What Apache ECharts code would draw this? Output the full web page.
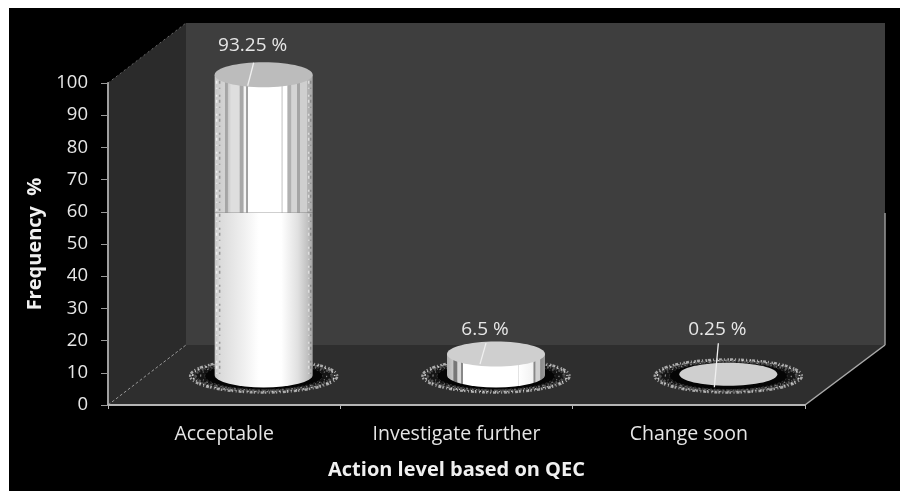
<!DOCTYPE html>
<html><head><meta charset="utf-8">
<style>html,body{margin:0;padding:0;background:#fff}#c{width:904px;height:491px}</style>
<script src="https://cdn.jsdelivr.net/npm/echarts@6/dist/echarts.min.js"></script>
</head><body><div id="c"></div>
<script>
const categories = ['Acceptable', 'Investigate further', 'Change soon'];
const frequency = [93.25, 6.5, 0.25];
const valueLabels = ['93.25 %', '6.5 %', '0.25 %'];
const yTicks = [0, 10, 20, 30, 40, 50, 60, 70, 80, 90, 100];
const xTitle = 'Action level based on QEC';
const yTitle = 'Frequency  %';

const DEPTH_X = 78, DEPTH_Y = -60, RX = 49, RY = 12.5, SPLIT = 50.5;
const LABEL_LIFT = [29, 24, 45], LEADER_LIFT = [12, 11, 31], LEADER_DROP = [11, 10, 13];
const FONT = '"Open Sans", sans-serif';
const chart = echarts.init(document.getElementById('c'));

function ell(cx, cy, rx, ry, style) {
  return { type: 'ellipse', shape: { cx, cy, rx, ry }, style };
}
function stops(arr) {
  return { type: 'linear', x: 0, y: 0, x2: 1, y2: 0, colorStops: arr.map(a => ({ offset: a[0], color: a[1] })) };
}
const smooth = stops([[0,'#c4c4c4'],[0.05,'#dadada'],[0.3,'#f0f0f0'],[0.45,'#ffffff'],[0.68,'#ffffff'],[0.85,'#e0e0e0'],[0.95,'#c0c0c0'],[1,'#a5a5a5']]);
const striped = stops([[0,'#c8c8c8'],[0.1,'#d4d4d4'],[0.11,'#a5a5a5'],[0.13,'#a5a5a5'],[0.14,'#cccccc'],[0.17,'#dedede'],[0.25,'#dedede'],[0.26,'#a8a8a8'],[0.29,'#a8a8a8'],[0.3,'#f5f5f5'],[0.32,'#f5f5f5'],[0.325,'#a0a0a0'],[0.34,'#a0a0a0'],[0.345,'#ffffff'],[0.68,'#ffffff'],[0.685,'#bbbbbb'],[0.7,'#ffffff'],[0.74,'#ffffff'],[0.745,'#b0b0b0'],[0.78,'#b0b0b0'],[0.785,'#d4d4d4'],[0.84,'#d4d4d4'],[0.845,'#a5a5a5'],[0.87,'#a5a5a5'],[0.875,'#cfcfcf'],[0.94,'#cfcfcf'],[0.945,'#b4b4b4'],[1,'#a8a8a8']]);
const stripedShort = stops([[0,'#b0b0b0'],[0.06,'#c8c8c8'],[0.07,'#777777'],[0.1,'#777777'],[0.11,'#d8d8d8'],[0.14,'#d8d8d8'],[0.145,'#888888'],[0.16,'#888888'],[0.165,'#ffffff'],[0.72,'#ffffff'],[0.725,'#cccccc'],[0.735,'#ffffff'],[0.88,'#f2f2f2'],[0.885,'#888888'],[0.9,'#888888'],[0.905,'#d0d0d0'],[0.95,'#d0d0d0'],[0.955,'#8a8a8a'],[1,'#9a9a9a']]);

function renderWalls(params) {
  const c = params.coordSys;
  const L = c.x, R = c.x + c.width, T = c.y, B = c.y + c.height;
  const RD = R + DEPTH_X + 2;
  const poly = (pts, fill) => ({ type: 'polygon', shape: { points: pts }, style: { fill } });
  const line = (x1, y1, x2, y2, stroke, w, dash) => ({ type: 'line', shape: { x1, y1, x2, y2 }, style: { stroke, lineWidth: w || 1.5, lineDash: dash } });
  return { type: 'group', children: [
    poly([[L + DEPTH_X, T + DEPTH_Y], [RD, T + DEPTH_Y], [RD, B + DEPTH_Y], [L + DEPTH_X, B + DEPTH_Y]], '#3e3e3e'),
    poly([[L, T], [L + DEPTH_X, T + DEPTH_Y], [L + DEPTH_X, B + DEPTH_Y], [L, B]], '#2b2b2b'),
    poly([[L, B], [L + DEPTH_X, B + DEPTH_Y], [RD, B + DEPTH_Y], [R, B]], '#2e2e2e'),
    line(L, T, L + DEPTH_X, T + DEPTH_Y, '#666', 1, [2, 3]),
    line(L, B, L + DEPTH_X, B + DEPTH_Y, '#999', 1, [3, 2]),
    line(R, B, RD, B + DEPTH_Y, '#aaa', 1.5),
    line(RD, B + DEPTH_Y, RD, T + DEPTH_Y + 190, '#999', 1.5)
  ]};
}
function renderCyl(params, api) {
  const i = api.value(0), v = api.value(1);
  const base = api.coord([i, 0]), top = api.coord([i, v]), split = api.coord([i, SPLIT]);
  const cx = base[0] + DEPTH_X / 2 + 0.5, by = base[1] + DEPTH_Y / 2, ty = top[1] + DEPTH_Y / 2, sy = split[1] + DEPTH_Y / 2;
  const ring = (rx, ry, stroke, w, dash, fill) => ell(cx, by + 1, rx, ry, { fill: fill || 'none', stroke, lineWidth: w, lineDash: dash });
  const kids = [
    ring(73.5, 16.5, '#a8a8a8', 2.5, [1.5, 1, 3, 2, 1, 2.5]),
    ring(71, 15.5, '#d0d0d0', 1.5, [2, 3, 1, 2]),
    ring(68, 14.5, '#555', 2.5, [1, 2, 2, 1], '#151515'),
    ring(63, 14, '#888', 1.2, [1.5, 3, 1, 4]),
    ring(59, 13.5, '#333', 1, [2, 2], '#050505')
  ];
  const height = by - ty;
  if (height > 2) {
    const path = (yA, fill, round) => ({ type: 'path', shape: {
        pathData: 'M' + (cx - RX) + ' ' + yA + ' L' + (cx + RX) + ' ' + yA + ' L' + (cx + RX) + ' ' + (round ? by : sy) +
          (round ? ' A' + RX + ' ' + RY + ' 0 0 1 ' + (cx - RX) + ' ' + by : ' L' + (cx - RX) + ' ' + sy) + ' Z',
        x: cx - RX, y: yA, width: 2 * RX, height: (round ? by + RY : sy) - yA }, style: { fill } });
    if (v > SPLIT) {
      kids.push(path(sy, smooth, true));
      kids.push(path(ty, striped, false));
      [[-47, '#eee'], [47, '#888'], [-44, '#999'], [45, '#ddd']].forEach(d => kids.push({ type: 'line',
        shape: { x1: cx + d[0], y1: ty + 6, x2: cx + d[0], y2: by }, style: { stroke: d[1], lineWidth: 1.5, lineDash: [3, 4, 1, 6, 2, 3] } }));
    } else {
      kids.push(path(ty, stripedShort, true));
    }
  }
  kids.push(ell(cx, ty, RX, height > 2 ? RY : 11.5, { fill: height > 100 ? '#bcbcbc' : '#cfcfcf' }));
  kids.push({ type: 'line', shape: { x1: cx - 10, y1: ty - LEADER_LIFT[i], x2: cx - (height > 2 ? 16 : 14), y2: ty + LEADER_DROP[i] }, style: { stroke: '#f0f0f0', lineWidth: 1.3 } });
  kids.push({ type: 'text', style: { text: valueLabels[i], x: cx - 11, y: ty - LABEL_LIFT[i], align: 'center', verticalAlign: 'middle', fill: '#e6e6e6', font: '19px ' + FONT } });
  return { type: 'group', children: kids };
}

chart.setOption({
  backgroundColor: '#000',
  animation: false,
  grid: { left: 108, right: 99, top: 83, bottom: 86, containLabel: false },
  xAxis: { type: 'category', data: categories, name: xTitle, nameLocation: 'middle', nameGap: 55,
    nameTextStyle: { color: '#f0f0f0', fontSize: 20, fontWeight: 'bold', fontFamily: FONT },
    axisLine: { show: true, lineStyle: { color: '#b5b5b5', width: 2 } },
    axisTick: { show: true, alignWithLabel: false, length: 4, lineStyle: { color: '#b5b5b5' } },
    axisLabel: { color: '#e6e6e6', fontSize: 19.5, fontFamily: FONT, margin: 19 },
    splitLine: { show: false } },
  yAxis: { type: 'value', min: yTicks[0], max: yTicks[yTicks.length - 1], interval: yTicks[1] - yTicks[0],
    name: yTitle, nameLocation: 'middle', nameGap: 63, nameRotate: 90,
    nameTextStyle: { color: '#f0f0f0', fontSize: 20, fontWeight: 'bold', fontFamily: FONT },
    axisLine: { show: true, lineStyle: { color: '#a0a0a0', width: 2 } },
    axisTick: { show: true, length: 7, lineStyle: { color: '#999' } },
    axisLabel: { color: '#e6e6e6', fontSize: 18.5, fontFamily: FONT, margin: 20 },
    splitLine: { show: false } },
  graphic: [
    { type: 'rect', silent: true, z: -1, shape: { x: 0, y: 0, width: 904, height: 8 }, style: { fill: '#fff' } },
    { type: 'rect', silent: true, z: -1, shape: { x: 0, y: 0, width: 9, height: 491 }, style: { fill: '#fff' } },
    { type: 'rect', silent: true, z: -1, shape: { x: 900, y: 0, width: 4, height: 491 }, style: { fill: '#fff' } }
  ],
  series: [
    { type: 'custom', name: 'walls', data: [[0, 0]], z: 0, silent: true, clip: false, renderItem: renderWalls },
    { type: 'custom', name: 'Frequency', data: frequency.map((v, i) => [i, v]), z: 3, silent: true, clip: false, renderItem: renderCyl, encode: { x: 0, y: 1 } }
  ]
});
</script></body></html>
